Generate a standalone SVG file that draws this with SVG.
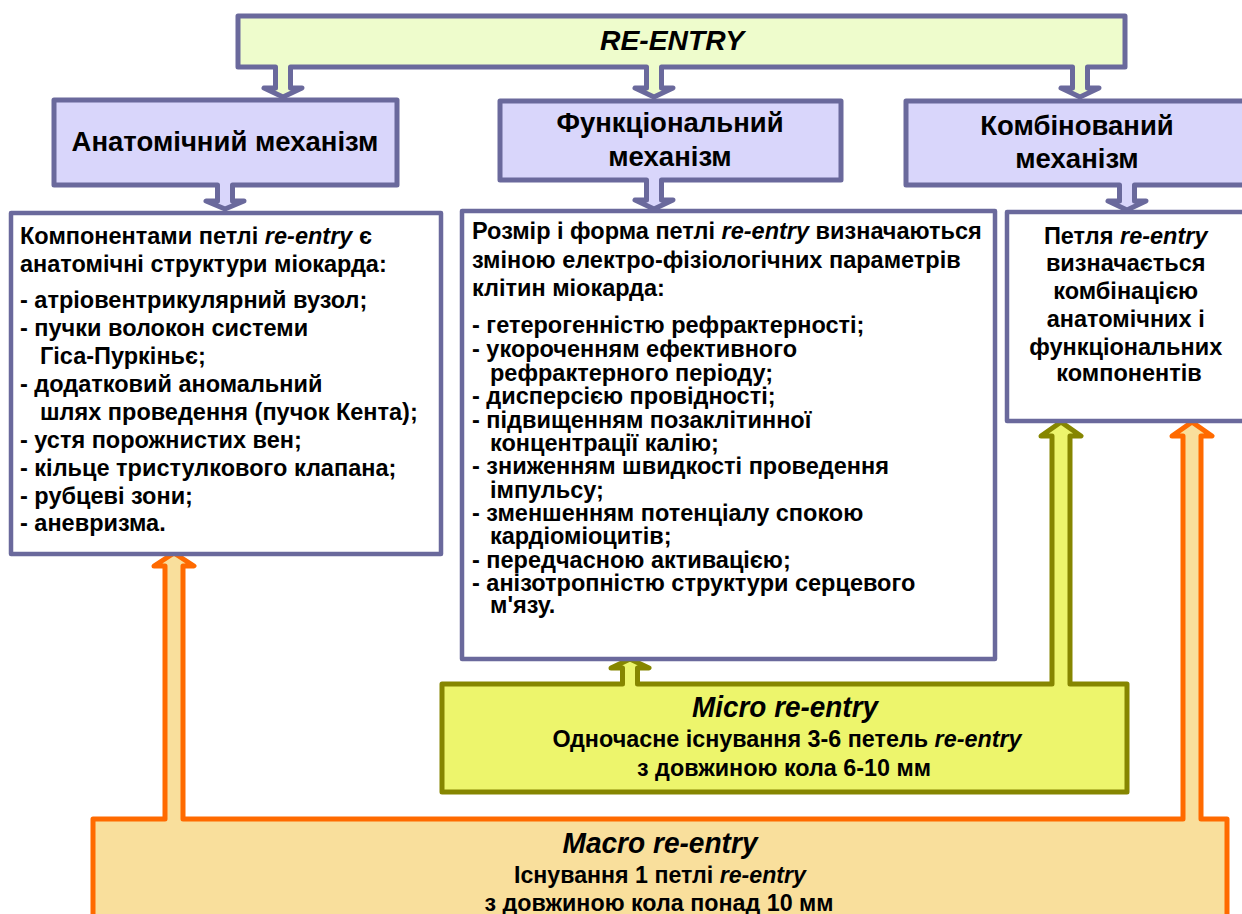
<svg xmlns="http://www.w3.org/2000/svg" width="1242" height="914" viewBox="0 0 1242 914">
<style>
.pu{stroke:#6a699c;stroke-width:5;stroke-linejoin:round}
.top{fill:#eefccc}
.l2{fill:#d9d6fb}
.det{fill:#ffffff;stroke:#6a699c;stroke-width:4.5;stroke-linejoin:round}
.micro{fill:#edf56c;stroke:#868600;stroke-width:5;stroke-linejoin:round}
.macro{fill:#f9df9c;stroke:#ff6a00;stroke-width:5;stroke-linejoin:round}
text{font-family:"Liberation Sans",Arial,sans-serif;font-weight:bold;fill:#000}
.h{font-size:27.5px;text-anchor:middle}
.b{font-size:23.5px}
.c{text-anchor:middle}
.i{font-style:italic}
.n{font-family:"Liberation Sans Narrow","Liberation Sans",sans-serif;text-anchor:middle}
</style>
<g id="connectors"></g>
<g id="re-entry">
<path class="pu top" d="M238,16 H1125 V67 H1087.5 V88 H1099 L1080,97 L1061,88 H1072.5 V67 H661.5 V88 H673 L654,97 L635,88 H646.5 V67 H290.5 V88 H302 L283,97 L264,88 H275.5 V67 H238 Z"/>
<text x="672" y="50" class="i" style="font-size:28px;text-anchor:middle" textLength="144" lengthAdjust="spacingAndGlyphs">RE-ENTRY</text>
</g>
<g id="micro">
<path class="micro" d="M442,684 H622.5 V668 H611 L630,659 L649,668 H637.5 V684 H1052 V436 H1041 L1061,422 L1081,436 H1070 V684 H1127 V792 H442 Z"/>
<text class="n i" x="785" y="717" style="font-size:30px" textLength="186" lengthAdjust="spacingAndGlyphs">Micro re-entry</text>
<text class="n" x="787" y="747" style="font-size:23px" textLength="469" lengthAdjust="spacingAndGlyphs">Одночасне існування 3-6 петель <tspan class="i">re-entry</tspan></text>
<text class="n" x="784" y="776" style="font-size:23px" textLength="294" lengthAdjust="spacingAndGlyphs">з довжиною кола 6-10 мм</text>
</g>
<g id="macro">
<path class="macro" d="M93,819 H165 V566 H154 L174,553 L194,566 H183 V819 H1183 V436 H1172 L1192,422 L1212,436 H1201 V819 H1227 V930 H93 Z"/>
<text class="n i" x="660" y="853" style="font-size:30px" textLength="195" lengthAdjust="spacingAndGlyphs">Macro re-entry</text>
<text class="n" x="660" y="883" style="font-size:23px" textLength="292" lengthAdjust="spacingAndGlyphs">Існування 1 петлі <tspan class="i">re-entry</tspan></text>
<text class="n" x="659" y="911" style="font-size:23px" textLength="349" lengthAdjust="spacingAndGlyphs">з довжиною кола понад 10 мм</text>
</g>
<g id="anatomical">
<path class="pu l2" d="M54,100 H397 V185 H232.5 V201 H244 L225,209 L206,201 H217.5 V185 H54 Z"/>
<text class="h" x="225" y="151">Анатомічний механізм</text>
</g>
<g id="functional">
<path class="pu l2" d="M500,101 H841 V180 H661.5 V200 H673 L654,209 L635,200 H646.5 V180 H500 Z"/>
<text class="h" x="670" y="132">Функціональний</text>
<text class="h" x="670" y="166">механізм</text>
</g>
<g id="combined">
<path class="pu l2" d="M906,101 H1250 V185 H1134.5 V201 H1146 L1127,210 L1108,201 H1119.5 V185 H906 Z"/>
<text class="h" x="1077" y="135">Комбінований</text>
<text class="h" x="1077" y="168">механізм</text>
</g>
<g id="anatomical-detail">
<rect class="det" x="11" y="213" width="430" height="341"/>
<text class="b">
<tspan x="20" y="244">Компонентами петлі <tspan class="i">re-entry</tspan> є</tspan>
<tspan x="20" y="272">анатомічні структури міокарда:</tspan>
<tspan x="20" y="308">- атріовентрикулярний вузол;</tspan>
<tspan x="20" y="336">- пучки волокон системи</tspan>
<tspan x="40" y="364">Гіса-Пуркіньє;</tspan>
<tspan x="20" y="392">- додатковий аномальний</tspan>
<tspan x="40" y="420">шлях проведення (пучок Кента);</tspan>
<tspan x="20" y="448">- устя порожнистих вен;</tspan>
<tspan x="20" y="476">- кільце тристулкового клапана;</tspan>
<tspan x="20" y="504">- рубцеві зони;</tspan>
<tspan x="20" y="531">- аневризма.</tspan>
</text>
</g>
<g id="functional-detail">
<rect class="det" x="462" y="211" width="533" height="448"/>
<text class="b">
<tspan x="472" y="239">Розмір і форма петлі <tspan class="i">re-entry</tspan> визначаються</tspan>
<tspan x="472" y="268">зміною електро-фізіологічних параметрів</tspan>
<tspan x="472" y="296">клітин міокарда:</tspan>
<tspan x="472" y="333">- гетерогенністю рефрактерності;</tspan>
<tspan x="472" y="357">- укороченням ефективного</tspan>
<tspan x="490" y="381">рефрактерного періоду;</tspan>
<tspan x="472" y="404">- дисперсією провідності;</tspan>
<tspan x="472" y="428">- підвищенням позаклітинної</tspan>
<tspan x="490" y="451">концентрації калію;</tspan>
<tspan x="472" y="474">- зниженням швидкості проведення</tspan>
<tspan x="490" y="498">імпульсу;</tspan>
<tspan x="472" y="521">- зменшенням потенціалу спокою</tspan>
<tspan x="490" y="544">кардіоміоцитів;</tspan>
<tspan x="472" y="568">- передчасною активацією;</tspan>
<tspan x="472" y="591">- анізотропністю структури серцевого</tspan>
<tspan x="490" y="613">м'язу.</tspan>
</text>
</g>
<g id="combined-detail">
<rect class="det" x="1007" y="212" width="250" height="209"/>
<text class="b c">
<tspan x="1129" y="244">Петля <tspan class="i">re-entry</tspan></tspan>
<tspan x="1129" y="271">визначається</tspan>
<tspan x="1129" y="299">комбінацією</tspan>
<tspan x="1129" y="327">анатомічних і</tspan>
<tspan x="1129" y="355">функціональних</tspan>
<tspan x="1129" y="381">компонентів</tspan>
</text>
</g>
</svg>
